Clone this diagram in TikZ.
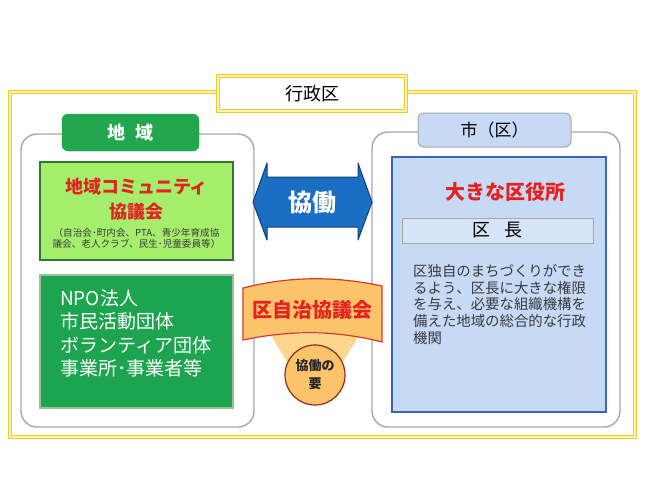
\documentclass[tikz,border=0pt]{standalone}
\usepackage{fontspec}
\setmainfont{Noto Sans CJK JP}
\definecolor{yframe}{HTML}{F2CC2E}
\definecolor{yframein}{HTML}{FFF3B0}
\definecolor{grayline}{HTML}{A8A8A8}
\definecolor{tabgreen}{HTML}{22A64E}
\definecolor{lightgreen}{HTML}{A4EE6C}
\definecolor{lgborder}{HTML}{2E7A2A}
\definecolor{darkgreen}{HTML}{1CA54E}
\definecolor{dgborder}{HTML}{9CBF9C}
\definecolor{lblue}{HTML}{C6D9F5}
\definecolor{bborder}{HTML}{3C64B4}
\definecolor{arrowblue}{HTML}{1A6FC4}
\definecolor{arrowborder}{HTML}{0E3F72}
\definecolor{bannerfill}{HTML}{FBC36A}
\definecolor{trapfill}{HTML}{FCD68E}
\definecolor{bannerborder}{HTML}{D83A2A}
\definecolor{redtext}{HTML}{E42222}
\definecolor{desctext}{HTML}{3A3A3A}
\tikzset{
  yelbox/.style={draw=yframe, double=yframein, double distance=1.6pt, line width=1.3pt},
  graybox/.style={draw=grayline, line width=1.4pt, rounded corners=16pt, fill=white},
  txt/.style={inner sep=0pt, align=center},
}
\begin{document}
\begin{tikzpicture}[x=1pt,y=-1pt]
\useasboundingbox (0,0) rectangle (650,488);
% outer frame
\draw[yelbox] (10,92) rectangle (635,437);
% title
\draw[yelbox, fill=white] (218,76) rectangle (406,111);
\node[txt, font=\fontsize{18}{20}\selectfont] (title) at (312,94) {行政区};
% left gray box
\draw[graybox] (21,134) rectangle (254,427);
\node[draw=tabgreen, fill=tabgreen, rounded corners=6pt, minimum width=137pt, minimum height=37pt, inner sep=0pt] (tabL) at (130.5,132.5) {};
\node[txt, text=white, font=\bfseries\fontsize{18}{20}\selectfont] at (tabL) {地\hspace{0.6em}域};
% light green box
\draw[draw=lgborder, fill=lightgreen, line width=1.2pt] (40,162) rectangle (233,260);
\node[txt, text=redtext, font=\bfseries\fontsize{18}{25}\selectfont] (comm) at (136.5,199) {地域コミュニティ\\協議会};
\node[txt, text=desctext, font=\fontsize{9.6}{11}\selectfont] (commsub) at (136.5,238) {（自治会･町内会、PTA、青少年育成協\\議会、老人クラブ、民生･児童委員等）};
% dark green box
\draw[draw=dgborder, fill=darkgreen, line width=1.2pt] (40,275) rectangle (233,408);
\node[txt, align=left, anchor=north west, text=white, font=\fontsize{19}{23.5}\selectfont] (npo) at (60,289) {NPO法人\\市民活動団体\\ボランティア団体\\事業所･事業者等};
% right gray box
\draw[graybox] (372,132) rectangle (620,427);
\node[draw=grayline, fill=lblue, rounded corners=6pt, minimum width=153pt, minimum height=34pt, inner sep=0pt, line width=1pt] (tabR) at (494.5,130) {};
\node[txt, font=\fontsize{17}{20}\selectfont] at (tabR) {市（区）};
% blue box
\draw[draw=bborder, fill=lblue, line width=1.2pt] (392,157) rectangle (606,412);
\node[txt, text=redtext, font=\bfseries\fontsize{20}{22}\selectfont] (office) at (505,192) {大きな区役所};
\node[draw=grayline, fill=lblue!70!white, line width=1pt, minimum width=191pt, minimum height=25pt, inner sep=0pt] (chief) at (497.5,230.5) {};
\node[txt, font=\fontsize{18}{20}\selectfont] at (chief) {区\hspace{0.8em}長};
\node[txt, align=left, anchor=north west, text=desctext, font=\fontsize{14.4}{16.7}\selectfont] (desc) at (413,264) {区独自のまちづくりができ\\るよう、区長に大きな権限\\を与え、必要な組織機構を\\備えた地域の総合的な行政\\機関};
% double arrow
\draw[draw=arrowborder, fill=arrowblue, line width=1pt, line join=round]
  (253,202) -- (267,163) -- (267,177) -- (358,177) -- (358,163) -- (372,202)
  -- (358,240) -- (358,227) -- (267,227) -- (267,240) -- cycle;
\node[txt, text=white, font=\bfseries\fontsize{24}{26}\selectfont] (kyodo) at (312.5,202) {協働};
% trapezoid
\fill[trapfill] (270,334) -- (360,334) -- (338,370) -- (292,370) -- cycle;
% banner
\draw[draw=bannerborder, fill=bannerfill, line width=1.2pt]
  (243,288) .. controls (290,276) and (335,276) .. (382,286) -- (382,342)
  .. controls (335,330) and (290,330) .. (243,340) -- cycle;
\node[txt, text=redtext, font=\bfseries\fontsize{20}{22}\selectfont] (council) at (312.5,310) {区自治協議会};
% circle
\node[draw=bannerborder!70!black, fill=bannerfill, circle, minimum size=60pt, line width=1.2pt, inner sep=0pt] (kaname) at (315,375) {};
\node[txt, text=black!85, font=\bfseries\fontsize{13}{18}\selectfont] at (kaname) {協働の\\要};
\end{tikzpicture}
\end{document}
